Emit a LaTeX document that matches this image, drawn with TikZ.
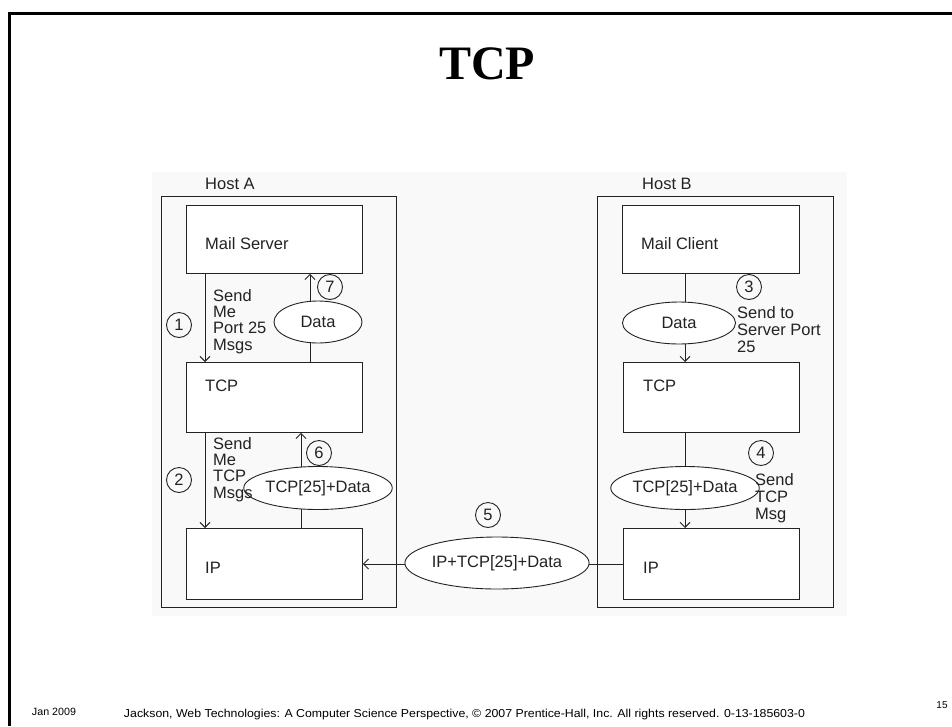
\documentclass[tikz,border=0pt]{standalone}
\usepackage{fontspec}
\setmainfont{Liberation Sans}
\newfontfamily\titlefont{Liberation Serif}
\usetikzlibrary{arrows.meta,shapes.geometric}
\definecolor{ink}{RGB}{35,35,35}
\definecolor{paper}{RGB}{249,249,249}
\tikzset{
  lbl/.style={font=\fontsize{16.5}{17}\selectfont, inner sep=0pt, text=ink},
  blk/.style={draw=ink, line width=0.9pt, anchor=north west, inner sep=0pt, fill=white},
  host/.style={draw=ink, line width=0.9pt, anchor=north west, inner sep=0pt},
  msg/.style={ellipse, draw=ink, line width=0.9pt, fill=white, inner sep=0pt,
    font=\fontsize{16.5}{17}\selectfont, text=ink},
  num/.style={circle, draw=ink, line width=0.9pt, inner sep=0pt, minimum size=25pt,
    font=\fontsize{16.5}{17}\selectfont, text=ink},
  arr/.style={draw=ink, line width=0.9pt, -{Straight Barb[length=5pt,width=10pt]}},
  note/.style={lbl, anchor=north west, align=left},
}
\begin{document}
\begin{tikzpicture}[x=1pt,y=-1pt]
\useasboundingbox (0,0) rectangle (952,726);
\fill[white] (0,0) rectangle (952,726);

% slide frame
\draw[line width=3pt, black] (9,726) -- (9,13) -- (952,13);

% title
\node[font=\titlefont\bfseries\fontsize{48}{48}\selectfont] (title) at (487,64) {TCP};

% figure panel
\fill[paper] (152,172) rectangle (847,616);

% hosts
\node[host, minimum width=235pt, minimum height=411pt] (hosta) at (161,196) {};
\node[host, minimum width=236pt, minimum height=411pt] (hostb) at (597,196) {};
\node[lbl, anchor=base west] (hostal) at (205,189) {Host A};
\node[lbl, anchor=base west] (hostbl) at (642,189) {Host B};

% layer boxes, host A
\node[blk, minimum width=176pt, minimum height=68pt] (ms) at (186,205) {};
\node[blk, minimum width=176pt, minimum height=70pt] (tcpa) at (186,362) {};
\node[blk, minimum width=176pt, minimum height=71pt] (ipa) at (186,528) {};
\node[lbl, anchor=base west] (msl) at (205,249) {Mail Server};
\node[lbl, anchor=base west] (tcpal) at (205,391) {TCP};
\node[lbl, anchor=base west] (ipal) at (205,573) {IP};

% layer boxes, host B
\node[blk, minimum width=177pt, minimum height=68pt] (mc) at (622,205) {};
\node[blk, minimum width=176pt, minimum height=70pt] (tcpb) at (623,362) {};
\node[blk, minimum width=176pt, minimum height=71pt] (ipb) at (623,528) {};
\node[lbl, anchor=base west] (mcl) at (641,249) {Mail Client};
\node[lbl, anchor=base west] (tcpbl) at (643,391) {TCP};
\node[lbl, anchor=base west] (ipbl) at (643,573) {IP};

% flows
\draw[arr] ([xshift=19pt]ms.south west) -- ([xshift=19pt]tcpa.north west);
\draw[arr] ([xshift=124pt]tcpa.north west) -- ([xshift=124pt]ms.south west);
\draw[arr] ([xshift=19pt]tcpa.south west) -- ([xshift=19pt]ipa.north west);
\draw[arr] ([xshift=115pt]ipa.north west) -- ([xshift=115pt]tcpa.south west);
\draw[arr] ([xshift=63pt]mc.south west) -- ([xshift=62pt]tcpb.north west);
\draw[arr] ([xshift=62pt]tcpb.south west) -- ([xshift=62pt]ipb.north west);
\draw[arr] (ipb.west) -- (ipa.east);

% messages
\node[msg, minimum width=88pt, minimum height=42pt] (dataa) at (318,322) {Data};
\node[msg, minimum width=123pt, minimum height=43pt] (sega) at (318,488) {TCP[25]+Data};
\node[msg, minimum width=113pt, minimum height=42pt] (datab) at (679,323) {Data};
\node[msg, minimum width=125pt, minimum height=43pt] (segb) at (685,488) {TCP[25]+Data};
\node[msg, minimum width=167pt, minimum height=52pt] (pkt) at (497,563) {IP+TCP[25]+Data};

% step numbers
\node[num] (n1) at (179,325) {1};
\node[num] (n2) at (179,480) {2};
\node[num] (n3) at (749,287) {3};
\node[num] (n4) at (761,453) {4};
\node[num] (n5) at (488,515) {5};
\node[num] (n6) at (319,453) {6};
\node[num] (n7) at (330,287) {7};

% step notes
\node[note, font=\fontsize{16.5}{16.3}\selectfont] (t1) at (213,289) {Send\\Me\\Port 25\\Msgs};
\node[note, font=\fontsize{16.5}{16.3}\selectfont] (t2) at (213,437) {Send\\Me\\TCP\\Msgs};
\node[note] (t3) at (737,306) {Send to\\Server Port\\25};
\node[note] (t4) at (755,473) {Send\\TCP\\Msg};

% footer
\node[inner sep=0pt, font=\fontsize{10.5}{11}\selectfont] (date) at (54,712) {\resizebox{44pt}{\height}{Jan 2009}};
\node[inner sep=0pt, font=\fontsize{11.5}{12}\selectfont] (credit) at (464.5,715) {\resizebox{681pt}{\height}{Jackson, Web Technologies: A Computer Science Perspective, \copyright{} 2007 Prentice-Hall, Inc. All rights reserved. 0-13-185603-0}};
\node[inner sep=0pt, font=\fontsize{10}{11}\selectfont] (page) at (942,705) {15};
\end{tikzpicture}
\end{document}
